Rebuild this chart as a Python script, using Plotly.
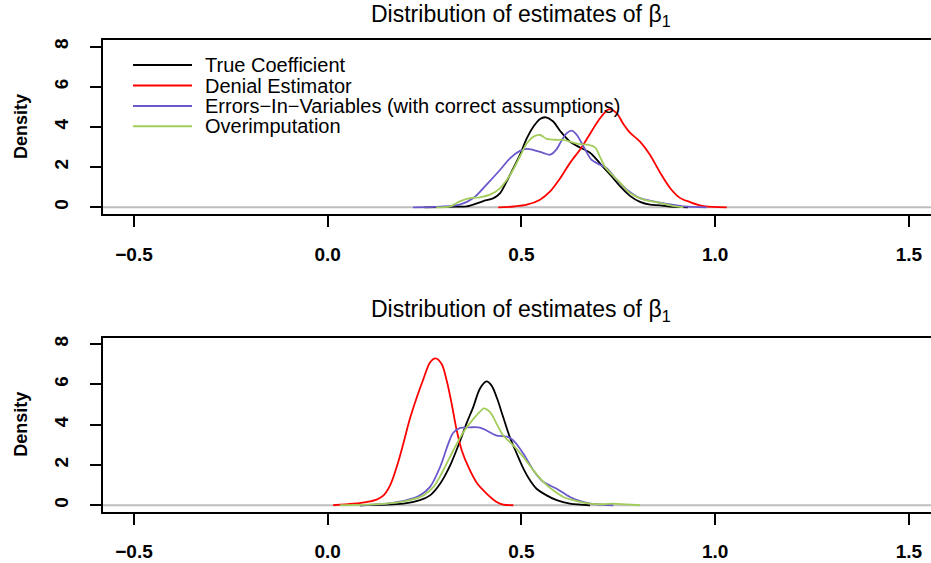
import plotly.graph_objects as go

W, H = 931, 563

# ---------------- data ----------------
series_names = ["True Coefficient", "Denial Estimator",
                "Errors\u2212In\u2212Variables (with correct assumptions)", "Overimputation"]
series_colors = ["#000000", "#FF0000", "#6959CD", "#A2CD5A"]

# top panel
top_true_x = [0.25, 0.29, 0.33, 0.359, 0.40, 0.428, 0.445, 0.462, 0.479, 0.496, 0.514, 0.531, 0.548, 0.563,
              0.582, 0.60, 0.625, 0.651, 0.677, 0.703, 0.729, 0.755, 0.78, 0.806, 0.832, 0.858, 0.884, 0.93]
top_true_y = [0, 0.01, 0.03, 0.05, 0.3, 0.46, 0.71, 1.29, 1.95, 2.61, 3.44, 4.02, 4.40, 4.48,
              4.27, 3.8, 3.27, 2.98, 2.72, 2.18, 1.62, 1.04, 0.57, 0.27, 0.13, 0.10, 0.03, 0]

top_denial_x = [0.44, 0.48, 0.514, 0.548, 0.574, 0.60, 0.625, 0.651, 0.672, 0.698, 0.725, 0.745, 0.763,
                0.78, 0.806, 0.832, 0.858, 0.884, 0.909, 0.935, 0.97, 1.03]
top_denial_y = [0, 0.04, 0.13, 0.38, 0.79, 1.45, 2.2, 2.87, 3.5, 4.3, 4.88, 4.7, 4.15,
                3.72, 3.27, 2.61, 1.72, 0.95, 0.47, 0.26, 0.06, 0]

top_eiv_x = [0.22, 0.29, 0.341, 0.376, 0.41, 0.445, 0.471, 0.496, 0.513, 0.53, 0.557, 0.574, 0.591, 0.60,
             0.617, 0.63, 0.643, 0.66, 0.681, 0.703, 0.72, 0.746, 0.772, 0.806, 0.84, 0.875, 0.918, 0.978]
top_eiv_y = [0, 0.03, 0.13, 0.46, 1.13, 1.87, 2.45, 2.81, 2.91, 2.86, 2.70, 2.62, 2.9, 3.2,
             3.69, 3.82, 3.6, 3.03, 2.36, 2.12, 1.95, 1.37, 0.88, 0.46, 0.30, 0.17, 0.05, 0]

top_over_x = [0.28, 0.316, 0.341, 0.367, 0.393, 0.419, 0.445, 0.471, 0.496, 0.514, 0.531, 0.548, 0.565,
              0.591, 0.608, 0.625, 0.651, 0.67, 0.69, 0.703, 0.716, 0.735, 0.755, 0.78, 0.815, 0.849, 0.884, 0.918]
top_over_y = [0, 0.05, 0.30, 0.46, 0.50, 0.63, 0.96, 1.62, 2.53, 3.19, 3.52, 3.6, 3.41,
              3.36, 3.36, 3.27, 3.14, 3.12, 2.98, 2.5, 2.0, 1.6, 1.21, 0.71, 0.38, 0.26, 0.10, 0]

# bottom panel
bot_true_x = [0.083, 0.195, 0.238, 0.264, 0.29, 0.316, 0.342, 0.359, 0.376, 0.393, 0.41, 0.423, 0.436,
              0.453, 0.47, 0.488, 0.505, 0.522, 0.539, 0.565, 0.591, 0.625, 0.677]
bot_true_y = [0, 0.08, 0.25, 0.49, 1.07, 1.98, 3.22, 4.1, 4.9, 5.8, 6.15, 5.94, 5.36,
              4.37, 3.38, 2.56, 1.82, 1.24, 0.82, 0.49, 0.25, 0.08, 0]

bot_denial_x = [0.014, 0.066, 0.10, 0.126, 0.144, 0.161, 0.178, 0.195, 0.212, 0.23, 0.247, 0.264, 0.278,
                0.294, 0.307, 0.32, 0.333, 0.346, 0.363, 0.385, 0.41, 0.436, 0.453, 0.479]
bot_denial_y = [0, 0.08, 0.16, 0.28, 0.49, 0.99, 1.90, 3.05, 4.29, 5.36, 6.27, 7.09, 7.29,
                7.01, 6.19, 5.03, 3.71, 2.72, 1.9, 1.1, 0.58, 0.16, 0.03, 0]

bot_eiv_x = [0.083, 0.152, 0.204, 0.238, 0.264, 0.29, 0.311, 0.324, 0.342, 0.367, 0.393, 0.41, 0.436,
             0.462, 0.479, 0.505, 0.531, 0.557, 0.591, 0.625, 0.66, 0.694, 0.737]
bot_eiv_y = [0, 0.08, 0.25, 0.49, 0.91, 1.90, 3.05, 3.6, 3.84, 3.87, 3.86, 3.71, 3.46,
             3.41, 3.22, 2.56, 1.73, 1.15, 0.82, 0.41, 0.16, 0.05, 0]

bot_over_x = [0.032, 0.152, 0.212, 0.247, 0.273, 0.298, 0.324, 0.35, 0.376, 0.393, 0.403, 0.419, 0.436,
              0.453, 0.479, 0.505, 0.531, 0.557, 0.582, 0.608, 0.643, 0.677, 0.711, 0.737, 0.772, 0.806]
bot_over_y = [0, 0.08, 0.25, 0.49, 0.91, 1.73, 2.72, 3.63, 4.29, 4.65, 4.81, 4.62, 4.04,
              3.46, 2.97, 2.39, 1.73, 1.15, 0.74, 0.41, 0.21, 0.08, 0.05, 0.08, 0.04, 0]

x_tick_vals = [-0.5, 0.0, 0.5, 1.0, 1.5]
x_tick_text = ["\u22120.5", "0.0", "0.5", "1.0", "1.5"]
y_tick_vals = [0, 2, 4, 6, 8]
y_tick_text = ["0", "2", "4", "6", "8"]

title_text = "Distribution of estimates of \u03b2<sub>1</sub>"
ylabel_text = "<b>Density</b>"

FONT = "Liberation Sans, Arial, Helvetica, sans-serif"

top_series = [(top_true_x, top_true_y), (top_denial_x, top_denial_y),
              (top_eiv_x, top_eiv_y), (top_over_x, top_over_y)]
bot_series = [(bot_true_x, bot_true_y), (bot_denial_x, bot_denial_y),
              (bot_eiv_x, bot_eiv_y), (bot_over_x, bot_over_y)]

fig = go.Figure()
for (xs, ys), name, col in zip(top_series, series_names, series_colors):
    fig.add_trace(go.Scatter(x=xs, y=ys, mode="lines", name=name, showlegend=False,
                             line=dict(color=col, width=1.8, shape="spline", smoothing=0.9),
                             xaxis="x", yaxis="y"))
for (xs, ys), name, col in zip(bot_series, series_names, series_colors):
    fig.add_trace(go.Scatter(x=xs, y=ys, mode="lines", name=name, showlegend=False,
                             line=dict(color=col, width=1.8, shape="spline", smoothing=0.9),
                             xaxis="x2", yaxis="y2"))

# pixel -> paper helpers (layout only)
def px_x(p):
    return p / W

def px_y(p):
    return 1 - p / H

x_left_px = 103.0
x_range = [-0.58, 1.557]
top_dom = [px_y(212.5), px_y(38.3)]
bot_dom = [px_y(511.5), px_y(336.9)]

TICKFONT = dict(family=FONT, size=19, color="black", weight="bold")

xaxis_common = dict(range=x_range, domain=[px_x(x_left_px), 1.0], showgrid=False, zeroline=False,
                    showline=True, mirror=True, linecolor="black", linewidth=2,
                    ticks="outside", ticklen=11, tickwidth=2, tickcolor="black",
                    tickvals=x_tick_vals, ticktext=x_tick_text, ticklabelstandoff=11,
                    tickfont=TICKFONT)
yaxis_common = dict(range=[-0.32, 8.32], showgrid=False, zeroline=False,
                    showline=True, mirror=False, linecolor="black", linewidth=2,
                    ticks="outside", ticklen=11, tickwidth=2, tickcolor="black",
                    tickvals=y_tick_vals, ticktext=y_tick_text, tickangle=-90, ticklabelstandoff=14,
                    tickfont=TICKFONT)

fig.update_layout(
    width=W, height=H,
    margin=dict(l=0, r=0, t=0, b=0),
    paper_bgcolor="white", plot_bgcolor="white",
    font=dict(family=FONT, color="black"),
    hovermode=False,
    xaxis=dict(anchor="y", **xaxis_common),
    xaxis2=dict(anchor="y2", **xaxis_common),
    yaxis=dict(anchor="x", domain=top_dom, **yaxis_common),
    yaxis2=dict(anchor="x2", domain=bot_dom, **yaxis_common),
)

shapes = []
# grey zero lines (abline h=0)
for xr, yr in [("x domain", "y"), ("x2 domain", "y2")]:
    shapes.append(dict(type="line", xref=xr, yref=yr, x0=0, x1=1, y0=0, y1=0,
                       line=dict(color="#BEBEBE", width=2), layer="below"))

annotations = []
# titles
for xr, ypx in [("x", 14), ("x2", 310)]:
    annotations.append(dict(text=title_text, xref=xr, yref="paper", x=0.5, y=px_y(ypx),
                            xanchor="center", yanchor="middle", showarrow=False,
                            font=dict(family=FONT, size=23, color="black")))
# y labels
for dom in [top_dom, bot_dom]:
    annotations.append(dict(text=ylabel_text, xref="paper", yref="paper", x=px_x(21),
                            y=(dom[0] + dom[1]) / 2, xanchor="center", yanchor="middle",
                            textangle=-90, showarrow=False,
                            font=dict(family=FONT, size=18, color="black")))

# legend (top panel, no box)
legend_rows_px = [63.3, 83.8, 104.3, 124.8]
for name, col, ypx in zip(series_names, series_colors, legend_rows_px):
    shapes.append(dict(type="line", xref="paper", yref="paper",
                       x0=px_x(133), x1=px_x(192), y0=px_y(ypx), y1=px_y(ypx),
                       line=dict(color=col, width=2)))
    annotations.append(dict(text=name, xref="paper", yref="paper", x=px_x(203), y=px_y(ypx),
                            xanchor="left", yanchor="middle", showarrow=False,
                            font=dict(family=FONT, size=20, color="black")))

fig.update_layout(shapes=shapes, annotations=annotations)

fig.write_html("out.html", config={"displayModeBar": False},
               post_script="document.body.style.margin='0';")
